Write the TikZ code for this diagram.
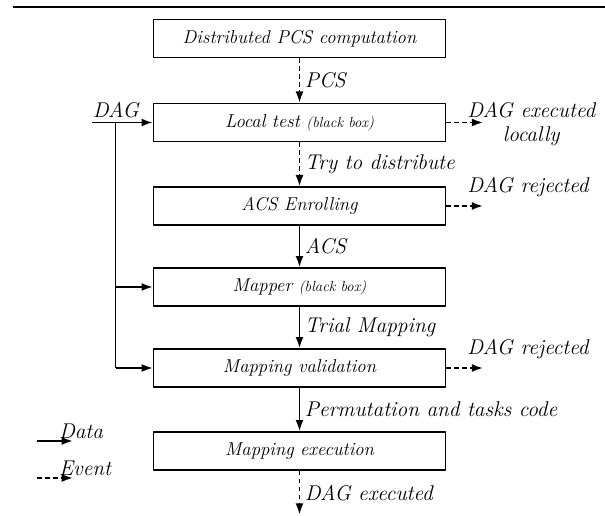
\documentclass[tikz,border=0pt]{standalone}
\usetikzlibrary{arrows.meta}
\begin{document}
\begin{tikzpicture}[x=0.75pt,y=-0.75pt,>={Latex[length=8.5pt,width=6pt]},line join=round,
    blk/.style={draw,line width=1pt,minimum width=219pt,minimum height=28.5pt,inner sep=0pt,font=\fontsize{14}{17}\selectfont\itshape},
    data/.style={->,line width=1.4pt},
    event/.style={->,line width=1.4pt,dash pattern=on 3.5pt off 2.5pt},
    lbl/.style={font=\fontsize{16}{18.5}\selectfont\itshape}]
    \useasboundingbox (0,0) rectangle (605,516);
    \draw[line width=1.6pt] (13,7)--(605,7);
    % the chain of blocks
    \node[blk] (pcs) at (299.5,38.5) {Distributed PCS computation};
    \node[blk] (local) at (299.5,122.5) {Local test {\fontsize{11}{13}\selectfont(black box)}};
    \node[blk] (acs) at (299.5,206) {ACS Enrolling};
    \node[blk] (mapper) at (299.5,287) {Mapper {\fontsize{11}{13}\selectfont(black box)}};
    \node[blk] (valid) at (299.5,368) {Mapping validation};
    \node[blk] (exec) at (299.5,451) {Mapping execution};
    \draw[event] (pcs)--(local) node[midway,right,lbl]{PCS};
    \draw[event] (local)--(acs) node[midway,right,lbl]{Try to distribute};
    \draw[data] (acs)--(mapper) node[midway,right,lbl]{ACS};
    \draw[data] (mapper)--(valid) node[midway,right,lbl]{Trial Mapping};
    \draw[data] (valid)--(exec) node[midway,right,lbl]{Permutation and tasks code};
    \draw[event] (exec.south)--++(0,44) coordinate (done) node[midway,right,lbl]{DAG executed};
    % outputs on the right
    \draw[event] (local.east)--++(37,0) coordinate (locout);
    \draw[event] (acs.east)--++(37,0) coordinate (acsout);
    \draw[event] (valid.east)--++(37,0) coordinate (valout);
    \node[lbl,align=center,anchor=west,inner sep=0pt] (exloc) at (467,124) {DAG executed\\locally};
    \node[lbl,anchor=south west,inner sep=0pt] (rej1) at (467,197) {DAG rejected};
    \node[lbl,anchor=south west,inner sep=0pt] (rej2) at (467,359) {DAG rejected};
    % DAG input
    \coordinate (dagin) at (92,122.5);
    \coordinate (fork) at (115.7,122.5);
    \draw[data] (dagin)--(local.west) node[pos=0,above right,inner sep=0pt,yshift=3pt,lbl]{DAG};
    \draw[line width=0.9pt] (fork)--(fork|-valid.west);
    \draw[data] (fork|-mapper.west)--(mapper.west);
    \draw[data] (fork|-valid.west)--(valid.west);
    % legend
    \coordinate (dat) at (37,441);
    \coordinate (evt) at (37,478);
    \draw[data] (dat)--++(36,0) node[pos=.55,above right,inner sep=1pt,lbl]{Data};
    \draw[event] (evt)--++(36,0) node[pos=.55,above right,inner sep=1pt,lbl]{Event};
\end{tikzpicture}
\end{document}
